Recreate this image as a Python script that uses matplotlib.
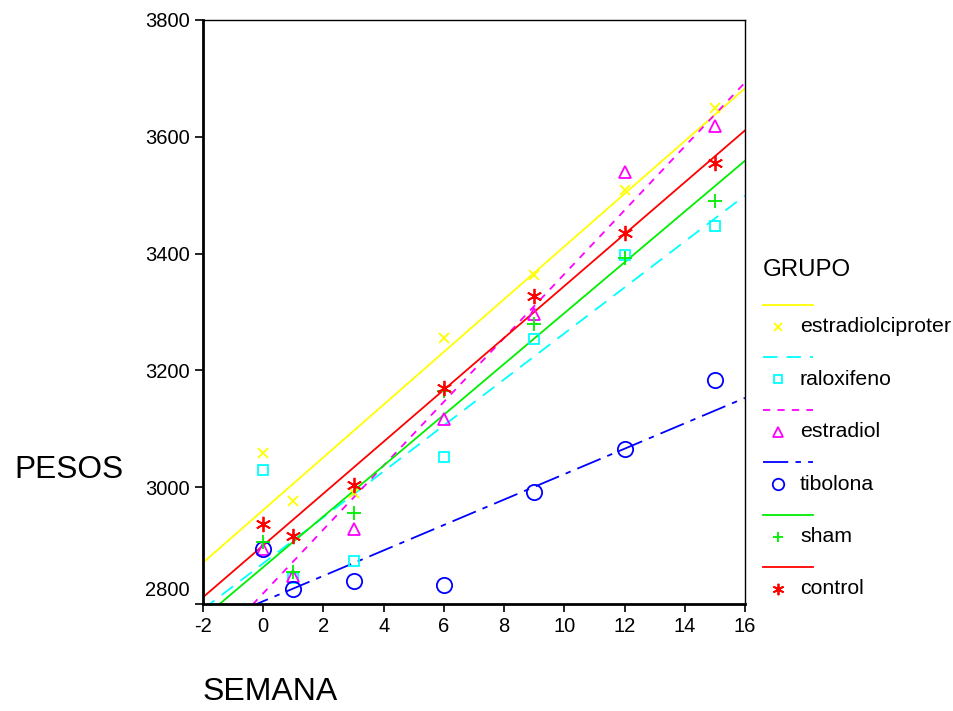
# Pesos por semana y grupo, con recta de regresion por grupo
import numpy as np
import matplotlib
matplotlib.use('Agg')
from matplotlib import pyplot as plt
from matplotlib.lines import Line2D
from matplotlib.transforms import ScaledTranslation

plt.rcParams['font.family'] = ['Liberation Sans', 'DejaVu Sans']
plt.rcParams['axes.unicode_minus'] = False

semana = [0, 1, 3, 6, 9, 12, 15]

# valores
estradiolciproter = [3059, 2977, 2990, 3256, 3363, 3508, 3649]
raloxifeno = [3030, 2845, 2874, 3052, 3253, 3397, 3447]
estradiol = [2894, 2848, 2929, 3117, 3297, 3539, 3618]
tibolona = [2894, 2826, 2840, 2833, 2992, 3066, 3183]
sham = [2906, 2855, 2956, 3164, 3279, 3392, 3490]
control = [2937, 2917, 3004, 3169, 3328, 3435, 3555]

grupos = ['estradiolciproter', 'raloxifeno', 'estradiol', 'tibolona', 'sham', 'control']
datos = [estradiolciproter, raloxifeno, estradiol, tibolona, sham, control]

# estilo de cada grupo: color, marcador, tamano, tipo de linea
colores = ['#ffff00', '#00ffff', '#ff00ff', '#0000ff', '#00ee00', '#ff0000']
marcadores = ['x', 's', '^', 'o', '+', (6, 2, 0)]
tamanos = [7, 7, 9, 11, 10, 11]
lineas = ['-', (0, (8, 5)), (0, (4, 4)), (0, (14, 4, 3, 4)), '-', '-']

fig = plt.figure(figsize=(9.54, 7.11), dpi=100)
ax = fig.add_axes([0.2128, 0.1505, 0.5681, 0.8215])

xs = np.linspace(-2, 16, 200)
for nombre, y, c, m, s, ls in zip(grupos, datos, colores, marcadores, tamanos, lineas):
    b, a = np.polyfit(semana, y, 1)
    ax.plot(xs, a + b * xs, color=c, lw=1.3, ls=ls, zorder=2)
    ax.plot(semana, y, ls='none', marker=m, ms=s, mfc='none', mec=c, mew=1.3, zorder=3)

ax.set_xlim(-2, 16)
ax.set_ylim(2800, 3800)
ax.set_xticks(range(-2, 17, 2))
ax.set_yticks(range(2800, 3801, 200))
ax.tick_params(labelsize=14.5, length=6, width=1.2, direction='out')
for lado in ['left', 'bottom']:
    ax.spines[lado].set_linewidth(2)
for lado in ['top', 'right']:
    ax.spines[lado].set_linewidth(1)

# la etiqueta 2800 va un poco mas arriba, como en el original
fig.canvas.draw()
lab = ax.get_yticklabels()[0]
lab.set_transform(lab.get_transform() + ScaledTranslation(0, 0.15, fig.dpi_scale_trans))

fig.text(0.015, 0.339, 'PESOS', fontsize=22.8, va='center', ha='left')
fig.text(0.212, 0.027, 'SEMANA', fontsize=23, va='center', ha='left')

# leyenda dibujada a mano (linea arriba, marcador y nombre debajo)
fig.text(0.800, 1 - 270 / 711, 'GRUPO', fontsize=17.3, va='center', ha='left')
for i, (nombre, c, m, s, ls) in enumerate(zip(grupos, colores, marcadores, tamanos, lineas)):
    yl = 1 - (305 + 52.4 * i) / 711
    ym = 1 - (327 + 52.4 * i) / 711
    fig.add_artist(Line2D([763 / 954, 813 / 954], [yl, yl], color=c, lw=1.3, ls=ls))
    fig.add_artist(Line2D([778 / 954], [ym], marker=m, ms=s * 0.75, mfc='none', mec=c, mew=1.3, ls='none'))
    fig.text(800 / 954, ym, nombre, fontsize=15.3, va='center', ha='left')

plt.savefig('out.png', dpi=100)
